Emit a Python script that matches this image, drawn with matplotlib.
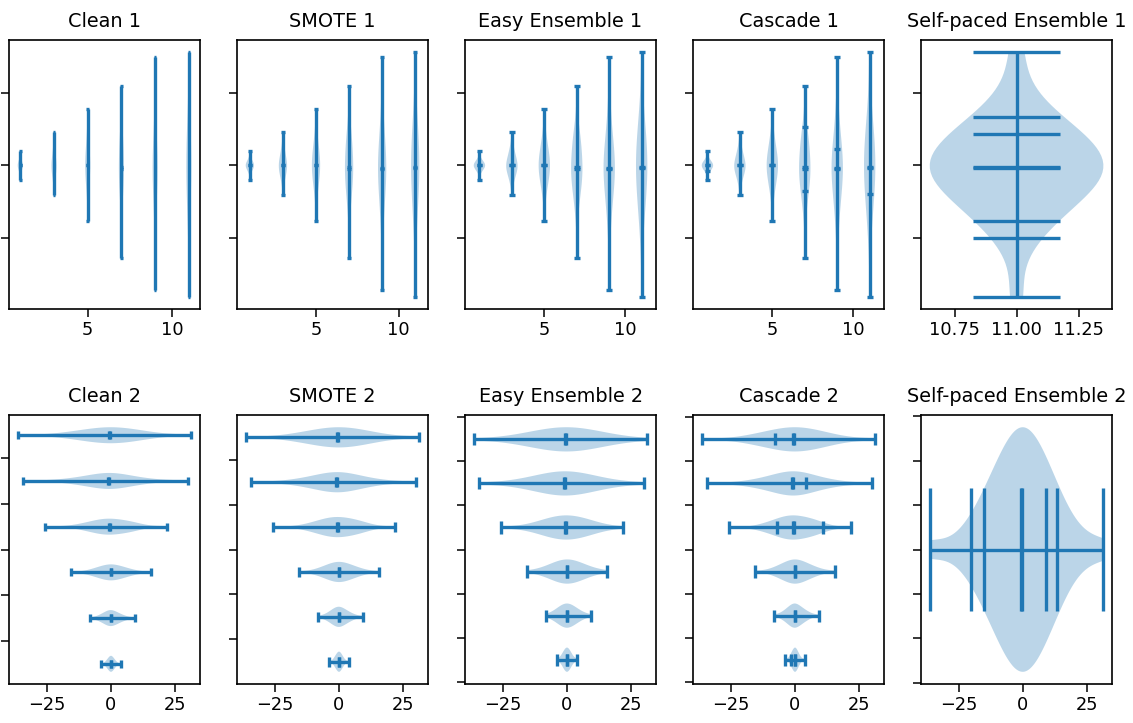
import matplotlib
matplotlib.use("Agg")
import matplotlib.pyplot as plt

# violin positions and hand-read samples (one list per position)
positions = [1, 3, 5, 7, 9, 11]

sample_1 = [-4.0, -2.2, -1.75, -1.55, -1.35, -1.15, -0.95, -0.8, -0.65, -0.5,
            -0.4, -0.3, -0.2, -0.1, 0.0, 0.1, 0.2, 0.3, 0.4, 0.5,
            0.65, 0.8, 0.95, 1.1, 1.3, 1.5, 1.8, 2.3, 4.0]
sample_3 = [-8.2, -5.4, -4.5, -3.8, -3.2, -2.7, -2.3, -1.9, -1.6, -1.3,
            -1.0, -0.7, -0.5, -0.3, -0.1, 0.1, 0.3, 0.6, 0.9, 1.2,
            1.5, 1.9, 2.3, 2.7, 3.2, 3.7, 4.3, 5.1, 6.2, 9.2]
sample_5 = [-15.4, -9.5, -7.8, -6.6, -5.6, -4.8, -4.1, -3.4, -2.8, -2.3,
            -1.8, -1.3, -0.9, -0.5, -0.1, 0.3, 0.7, 1.1, 1.6, 2.1,
            2.6, 3.2, 3.8, 4.5, 5.3, 6.1, 7.1, 8.4, 10.2, 15.6]
sample_7 = [-25.6, -14.0, -11.5, -9.8, -8.4, -7.2, -6.2, -5.3, -4.5, -3.8,
            -3.1, -2.5, -1.9, -1.5, -1.1, -0.7, 0.2, 1.0, 1.8, 2.6,
            3.4, 4.3, 5.2, 6.1, 7.0, 7.9, 8.7, 9.5, 11.3, 21.8]
sample_9 = [-34.3, -21.0, -16.5, -13.8, -11.6, -9.8, -8.3, -7.0, -5.9, -4.9,
            -4.0, -3.2, -2.4, -1.7, -1.0, -0.4, 0.3, 1.0, 1.7, 2.3,
            3.1, 3.9, 4.6, 6.2, 7.9, 9.8, 12.0, 14.6, 18.5, 29.8]
sample_11 = [-36.2, -22.0, -17.6, -15.0, -12.8, -11.0, -9.6, -8.1, -6.9, -5.8,
             -4.7, -3.6, -2.6, -1.6, -0.8, 0.0, 0.9, 1.8, 2.8, 3.8,
             4.9, 6.0, 7.2, 8.5, 9.9, 11.4, 13.1, 15.5, 20.5, 31.2]

data = [sample_1, sample_3, sample_5, sample_7, sample_9, sample_11]

titles_top = ["Clean 1", "SMOTE 1", "Easy Ensemble 1", "Cascade 1",
              "Self-paced Ensemble 1"]
titles_bottom = ["Clean 2", "SMOTE 2", "Easy Ensemble 2", "Cascade 2",
                 "Self-paced Ensemble 2"]

cascade_quantiles = [[0.1], [], [], [0.175, 0.954], [0.75], [0.25]]
selfpaced_quantiles = [0.05, 0.1, 0.8, 0.9]

plt.rcParams.update({
    "font.size": 12.8,
    "axes.titlesize": 13.9,
    "axes.titlepad": 9.4,
    "axes.linewidth": 1.2,
    "xtick.major.size": 5.5,
    "ytick.major.size": 5.5,
    "xtick.major.width": 1.1,
    "ytick.major.width": 1.1,
    "xtick.major.pad": 3.0,
})

fig, axs = plt.subplots(nrows=2, ncols=5, figsize=(11.33, 7.23), dpi=100)
fig.subplots_adjust(left=0.008, right=0.9815, top=0.9447, bottom=0.0539,
                    wspace=0.194, hspace=0.394)

common = dict(showmeans=True, showextrema=True, showmedians=True)
parts = []

# top row: vertical violins
parts.append(axs[0, 0].violinplot(data, positions, points=20, widths=0.3, **common))
parts.append(axs[0, 1].violinplot(data, positions, points=40, widths=0.5,
                                  bw_method="silverman", **common))
parts.append(axs[0, 2].violinplot(data, positions, points=60, widths=0.7,
                                  bw_method=0.5, **common))
parts.append(axs[0, 3].violinplot(data, positions, points=60, widths=0.7,
                                  bw_method=0.5, quantiles=cascade_quantiles,
                                  **common))
parts.append(axs[0, 4].violinplot(data[-1:], positions[-1:], points=60, widths=0.7,
                                  bw_method=0.5, quantiles=selfpaced_quantiles,
                                  **common))

# bottom row: horizontal violins
parts.append(axs[1, 0].violinplot(data, positions, points=80, widths=0.7,
                                  orientation="horizontal", **common))
parts.append(axs[1, 1].violinplot(data, positions, points=100, widths=0.9,
                                  orientation="horizontal", bw_method="silverman",
                                  **common))
parts.append(axs[1, 2].violinplot(data, positions, points=200, widths=1.1,
                                  orientation="horizontal", bw_method=0.75,
                                  **common))
parts.append(axs[1, 3].violinplot(data, positions, points=200, widths=1.1,
                                  orientation="horizontal", bw_method=0.5,
                                  quantiles=cascade_quantiles, **common))
parts.append(axs[1, 4].violinplot(data[-1:], positions[-1:], points=200, widths=1.1,
                                  orientation="horizontal", bw_method=0.5,
                                  quantiles=selfpaced_quantiles, **common))

for p in parts:
    for key in ("cmeans", "cmins", "cmaxes", "cbars", "cmedians", "cquantiles"):
        if key in p:
            p[key].set_linewidth(2.4)

for ax, t in zip(axs[0], titles_top):
    ax.set_title(t)
for ax, t in zip(axs[1], titles_bottom):
    ax.set_title(t)

for ax in axs.flat:
    ax.set_yticklabels([])

fig.savefig("out.png", dpi=100)
